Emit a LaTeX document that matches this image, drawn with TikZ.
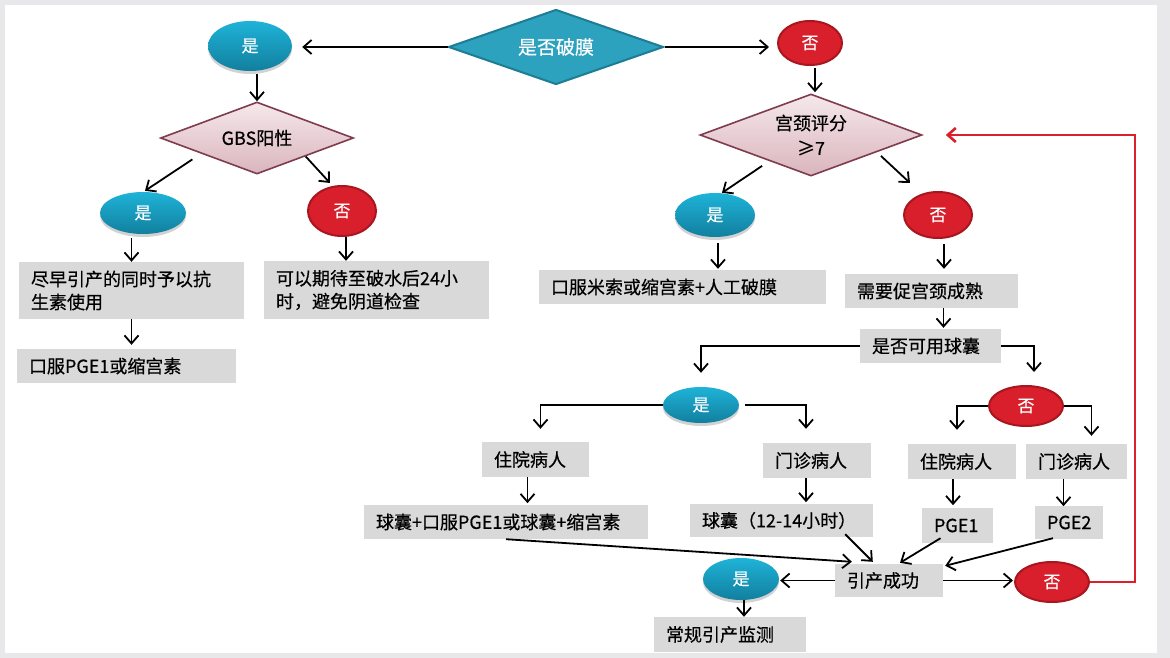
\documentclass[tikz,border=0pt]{standalone}
\usepackage{fontspec}
\setmainfont{Noto Sans CJK SC}[FakeBold=0.5]
\usetikzlibrary{positioning,shapes.geometric,arrows.meta,shadows}

\definecolor{bluetop}{HTML}{1EB3D8}
\definecolor{bluebot}{HTML}{127F9E}
\definecolor{redfill}{HTML}{D91F2B}
\definecolor{reddraw}{HTML}{A8161F}
\definecolor{tealfill}{HTML}{2CA2BF}
\definecolor{tealdraw}{HTML}{1E7C95}
\definecolor{pinktop}{HTML}{F5E8EB}
\definecolor{pinkbot}{HTML}{DAB5BD}
\definecolor{pinkdraw}{HTML}{7E3C4E}
\definecolor{boxgray}{HTML}{D9D9D9}
\definecolor{pagegray}{HTML}{E8E8EA}
\definecolor{loopred}{HTML}{DC1F2B}

\begin{document}
\begin{tikzpicture}[x=1pt, y=-1pt, >={Straight Barb[length=8pt,width=14pt]},
  arr/.style={->,line width=1.8pt,black},
  backline/.style={->,line width=2.6pt,loopred},
  yesoval/.style={ellipse,inner sep=0pt,top color=bluetop,bottom color=bluebot,
    text=white,font=\fontsize{17}{20}\selectfont,
    drop shadow={opacity=0.35,shadow xshift=0pt,shadow yshift=-3pt}},
  nooval/.style={ellipse,inner sep=0pt,fill=redfill,draw=reddraw,line width=2pt,
    text=white,font=\fontsize{17}{20}\selectfont},
  mainq/.style={diamond,inner sep=0pt,fill=tealfill,draw=tealdraw,line width=2pt,
    text=white,font=\fontsize{19}{22}\selectfont},
  question/.style={diamond,inner sep=0pt,top color=pinktop,bottom color=pinkbot,
    draw=pinkdraw,line width=1.6pt,align=center,font=\fontsize{18}{25}\selectfont},
  gbox/.style={rectangle,fill=boxgray,inner xsep=12pt,inner ysep=0pt,align=left,
    font=\fontsize{18}{23}\selectfont}]

  % Page
  \useasboundingbox (0,0) rectangle (1170,658);
  \fill[pagegray] (0,0) rectangle (1170,658);
  \fill[white] (5,5) rectangle (1157,653);

  % Membrane rupture question
  \node[mainq, aspect=2.87, minimum width=215, minimum height=75] (rupture) at (556,47) {是否破膜};
  \node[yesoval, minimum width=84, minimum height=50] (ruptYes) at (250,46) {是};
  \node[nooval, minimum width=64, minimum height=44] (ruptNo) at (810,43) {否};

  % Ruptured branch
  \node[question, aspect=2.68, minimum width=193, minimum height=72] (gbs) at (257,138) {GBS阳性};
  \node[yesoval, minimum width=86, minimum height=42] (gbsYes) at (143,213) {是};
  \node[nooval, minimum width=68, minimum height=50] (gbsNo) at (342,211) {否};
  \node[gbox, text width=201, minimum height=57] (abx) at (131.5,290.5) {尽早引产的同时予以抗\\生素使用};
  \node[gbox, text width=195, minimum height=34] (oralA) at (126.5,366) {口服PGE1或缩宫素};
  \node[gbox, text width=201, minimum height=58] (wait) at (376.5,290) {可以期待至破水后24小\\时，避免阴道检查};

  % Intact branch
  \node[question, aspect=2.7, minimum width=222, minimum height=82] (score) at (811,135) {宫颈评分\\≥7};
  \node[yesoval, minimum width=80, minimum height=44] (scoreYes) at (715,215) {是};
  \node[nooval, minimum width=68, minimum height=46] (scoreNo) at (938,215) {否};
  \node[gbox, text width=263, minimum height=34] (amniotomy) at (682.5,287) {口服米索或缩宫素+人工破膜};
  \node[gbox, text width=149, minimum height=34] (ripen) at (931.5,291) {需要促宫颈成熟};
  \node[gbox, text width=117, minimum height=34] (balloon) at (930.5,346) {是否可用球囊};

  % Balloon usable
  \node[yesoval, minimum width=76, minimum height=36] (balYes) at (701,405) {是};
  \node[gbox, text width=83, minimum height=35] (inBal) at (535.5,459.5) {住院病人};
  \node[gbox, text width=84, minimum height=35] (outBal) at (817,460.5) {门诊病人};
  \node[gbox, text width=260, minimum height=34] (balPlan) at (506,522) {球囊+口服PGE1或球囊+缩宫素};
  \node[gbox, text width=159, minimum height=33] (balHours) at (781.5,520.5) {球囊（12-14小时）};

  % Balloon not usable
  \node[nooval, minimum width=74, minimum height=40] (balNo) at (1026,406) {否};
  \node[gbox, text width=84, minimum height=35] (inDrug) at (962,461.5) {住院病人};
  \node[gbox, text width=77, minimum height=35] (outDrug) at (1076.5,461.5) {门诊病人};
  \node[gbox, text width=47, minimum height=35] (drugA) at (957.5,525.5) {PGE1};
  \node[gbox, text width=44, minimum height=33] (drugB) at (1069,522.5) {PGE2};

  % Outcome
  \node[gbox, text width=84, minimum height=33] (success) at (889,580.5) {引产成功};
  \node[yesoval, minimum width=76, minimum height=42] (succYes) at (741,579) {是};
  \node[nooval, minimum width=74, minimum height=40] (succNo) at (1052,582) {否};
  \node[gbox, text width=128, minimum height=35] (monitor) at (730,634.5) {常规引产监测};

  % Connectors at the top
  \draw[arr] (rupture.west) -- ([xshift=10pt]ruptYes.east |- rupture.west);
  \draw[arr] (rupture.east) -- ([xshift=-8pt]ruptNo.west |- rupture.east);
  \draw[arr] ([yshift=-3pt]ruptYes.south -| gbs.north) -- (gbs.north);
  \draw[arr] ([xshift=-16pt,yshift=-3pt]gbs.south west) -- ([xshift=2pt,yshift=1pt]gbsYes.north);
  \draw[arr] (gbs.south east) -- ([xshift=-12pt,yshift=2pt]gbsNo.north);
  \draw[arr] ([yshift=-4pt]gbsYes.south -| abx.north) -- (abx.north);
  \draw[arr] (abx.south) -- ([yshift=4pt]abx.south |- oralA.north);
  \draw[arr] ([xshift=4pt]gbsNo.south) -- ([xshift=4pt]gbsNo.south |- wait.north);

  % Connectors of the cervix score
  \draw[arr] ([xshift=5pt,yshift=-2pt]ruptNo.south) -- ([xshift=5pt,yshift=1pt]ruptNo.south |- score.north);
  \draw[arr] ([xshift=7pt,yshift=-10pt]score.south west) -- ([xshift=7pt]scoreYes.north);
  \draw[arr] ([xshift=14pt]score.south east) -- ([xshift=-28pt,yshift=8pt]scoreNo.north);
  \draw[arr] ([xshift=3pt,yshift=-6pt]scoreYes.south) -- ([xshift=3pt,yshift=1pt]scoreYes.south |- amniotomy.north);
  \draw[arr] ([xshift=6pt,yshift=-5pt]scoreNo.south) -- ([xshift=6pt,yshift=5pt]scoreNo.south |- ripen.north);
  \draw[arr] ([xshift=12pt]ripen.south) -- ([xshift=12pt,yshift=1pt]ripen.south |- balloon.north);
  \draw[arr] (balloon.west) -| ([yshift=14pt]balYes.north);
  \draw[arr] (balloon.east) -| ([xshift=8pt,yshift=13pt]balNo.north);

  % Connectors of the balloon branches
  \draw[arr] (balYes.west) -| ([xshift=5pt,yshift=13pt]inBal.north);
  \draw[arr] ([xshift=6pt]balYes.east) -| ([xshift=-11pt,yshift=14pt]outBal.north);
  \draw[arr] ([xshift=-8pt]inBal.south) -- ++(0,26);
  \draw[arr] ([xshift=-11pt]outBal.south) -- ++(0,24);
  \draw[arr] (balNo.west) -| ([xshift=-5pt,yshift=14pt]inDrug.north);
  \draw[arr] (balNo.east) -| ([xshift=15pt,yshift=8pt]outDrug.north);
  \draw[arr] ([xshift=-9pt]inDrug.south) -- ++(0,26);
  \draw[arr] ([xshift=-13pt]outDrug.south) -- ++(0,27);

  % Connectors into and out of the outcome
  \draw[arr] (balPlan.south) -- ([xshift=17pt,yshift=2pt]success.north west);
  \draw[arr] ([xshift=-28pt,yshift=3pt]balHours.south east) -- ([xshift=38pt,yshift=2pt]success.north west);
  \draw[arr] ([xshift=-17pt,yshift=5pt]drugA.south) -- ([xshift=11pt,yshift=1pt]success.north);
  \draw[arr] ([xshift=-16pt,yshift=1pt]drugB.south) -- ([xshift=2pt,yshift=-2pt]success.north east);
  \draw[arr] (success.east) -- ([xshift=-1pt]success.east -| succNo.west);
  \draw[arr] (success.west) -- ([xshift=1pt]success.west -| succYes.east);
  \draw[arr] ([xshift=3pt]succYes.south) -- ([xshift=3pt]succYes.south |- monitor.north);

  % Back to the cervix score
  \draw[backline] (succNo.east) -- ++(45,0) |- ([xshift=23pt]score.east);

\end{tikzpicture}
\end{document}
